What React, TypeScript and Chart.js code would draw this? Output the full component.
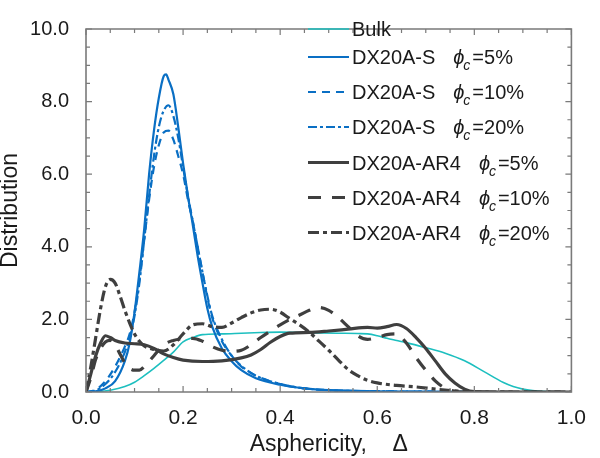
import React, { useEffect, useRef } from "react";
import { Chart, registerables } from "chart.js";

Chart.register(...registerables);

// ---------- data ----------
const bulkX = [0, 0.02, 0.05, 0.08, 0.1, 0.12, 0.14, 0.16, 0.18, 0.2, 0.22, 0.24, 0.28, 0.32, 0.36, 0.4, 0.44, 0.48, 0.52, 0.56, 0.58, 0.6, 0.62, 0.64, 0.66, 0.7, 0.74, 0.78, 0.82, 0.86, 0.88, 0.9, 0.92, 0.95, 1.0];
const bulkY = [0, 0.01, 0.05, 0.15, 0.27, 0.45, 0.65, 0.87, 1.1, 1.38, 1.5, 1.58, 1.6, 1.62, 1.64, 1.65, 1.64, 1.63, 1.62, 1.61, 1.6, 1.55, 1.48, 1.42, 1.36, 1.22, 1.07, 0.86, 0.56, 0.26, 0.15, 0.08, 0.04, 0.01, 0];

const s5X = [0, 0.02, 0.04, 0.06, 0.08, 0.09, 0.1, 0.11, 0.12, 0.13, 0.14, 0.15, 0.16, 0.165, 0.17, 0.18, 0.19, 0.2, 0.21, 0.22, 0.23, 0.24, 0.25, 0.26, 0.28, 0.3, 0.32, 0.35, 0.4, 0.45, 0.5, 0.6, 0.7, 0.8, 1.0];
const s5Y = [0, 0.02, 0.1, 0.3, 0.85, 1.35, 2.2, 3.3, 4.5, 6.0, 7.2, 8.1, 8.7, 8.75, 8.6, 8.2, 7.3, 6.3, 5.4, 4.6, 3.75, 3.0, 2.3, 1.8, 1.2, 0.85, 0.6, 0.38, 0.2, 0.1, 0.05, 0.02, 0.01, 0, 0];

const sX = [0, 0.02, 0.04, 0.06, 0.08, 0.09, 0.1, 0.11, 0.12, 0.13, 0.14, 0.15, 0.16, 0.17, 0.18, 0.19, 0.2, 0.21, 0.22, 0.23, 0.24, 0.25, 0.26, 0.28, 0.3, 0.32, 0.35, 0.4, 0.45, 0.5, 0.6, 0.7, 0.8, 1.0];
const s10Y = [0, 0.06, 0.3, 0.7, 1.25, 1.6, 2.2, 3.1, 4.2, 5.3, 6.2, 6.8, 7.15, 7.2, 6.95, 6.5, 6.0, 5.3, 4.7, 4.0, 3.3, 2.6, 2.05, 1.4, 1.0, 0.7, 0.45, 0.22, 0.1, 0.05, 0.02, 0.01, 0, 0];
const s20Y = [0, 0.04, 0.22, 0.55, 1.1, 1.5, 2.1, 3.0, 4.2, 5.4, 6.5, 7.3, 7.75, 7.9, 7.6, 7.0, 6.2, 5.4, 4.7, 4.0, 3.3, 2.65, 2.1, 1.45, 1.0, 0.72, 0.45, 0.22, 0.1, 0.05, 0.02, 0.01, 0, 0];

const a5X = [0, 0.01, 0.02, 0.03, 0.04, 0.05, 0.06, 0.08, 0.1, 0.12, 0.14, 0.16, 0.18, 0.2, 0.24, 0.28, 0.32, 0.34, 0.36, 0.38, 0.4, 0.42, 0.46, 0.5, 0.54, 0.58, 0.6, 0.62, 0.64, 0.66, 0.68, 0.7, 0.72, 0.74, 0.76, 0.78, 0.8, 0.85, 1.0];
const a5Y = [0, 0.5, 1.0, 1.35, 1.55, 1.5, 1.42, 1.35, 1.33, 1.3, 1.2, 1.05, 0.95, 0.88, 0.84, 0.86, 0.94, 1.02, 1.17, 1.37, 1.53, 1.62, 1.64, 1.68, 1.73, 1.78, 1.76, 1.8, 1.86, 1.75, 1.5, 1.2, 0.85, 0.5, 0.25, 0.08, 0.01, 0, 0];

const a10X = [0, 0.01, 0.02, 0.03, 0.04, 0.05, 0.06, 0.07, 0.08, 0.09, 0.1, 0.11, 0.12, 0.14, 0.16, 0.18, 0.2, 0.22, 0.24, 0.26, 0.28, 0.3, 0.32, 0.34, 0.36, 0.38, 0.4, 0.42, 0.44, 0.46, 0.48, 0.5, 0.52, 0.54, 0.56, 0.58, 0.6, 0.62, 0.64, 0.66, 0.68, 0.7, 0.72, 0.74, 0.76, 0.78, 1.0];
const a10Y = [0, 0.4, 0.9, 1.2, 1.38, 1.42, 1.3, 1.05, 0.8, 0.65, 0.6, 0.6, 0.7, 1.0, 1.3, 1.42, 1.47, 1.48, 1.4, 1.25, 1.15, 1.12, 1.15, 1.3, 1.5, 1.68, 1.85, 2.0, 2.12, 2.25, 2.33, 2.25, 2.05, 1.8, 1.55, 1.45, 1.5, 1.58, 1.6, 1.35, 0.95, 0.6, 0.3, 0.1, 0.02, 0, 0];

const a20X = [0, 0.01, 0.02, 0.03, 0.04, 0.05, 0.06, 0.07, 0.08, 0.09, 0.1, 0.11, 0.12, 0.14, 0.16, 0.18, 0.2, 0.22, 0.24, 0.26, 0.28, 0.3, 0.32, 0.34, 0.36, 0.38, 0.4, 0.42, 0.44, 0.46, 0.48, 0.5, 0.52, 0.54, 0.56, 0.58, 0.6, 0.64, 0.68, 0.72, 0.76, 0.8, 1.0];
const a20Y = [0, 0.7, 1.5, 2.3, 2.9, 3.1, 3.0, 2.65, 2.25, 1.9, 1.6, 1.4, 1.27, 1.17, 1.13, 1.3, 1.6, 1.85, 1.88, 1.8, 1.78, 1.9, 2.05, 2.18, 2.26, 2.28, 2.2, 2.02, 1.85, 1.65, 1.4, 1.15, 0.88, 0.62, 0.45, 0.32, 0.25, 0.18, 0.14, 0.08, 0.03, 0, 0];

const seriesNames = ["Bulk", "DX20A-S", "DX20A-S", "DX20A-S", "DX20A-AR4", "DX20A-AR4", "DX20A-AR4"];
const seriesPhi = ["", "=5%", "=10%", "=20%", "=5%", "=10%", "=20%"];

const xMin = 0, xMax = 1, xStep = 0.2, xMinor = 0.05;
const yMin = 0, yMax = 10, yStep = 2, yMinor = 0.5;
const xTitle = "Asphericity,    Δ";
const yTitle = "Distribution";

// ---------- styles ----------
const BLUE = "#0a6fc4";
const TEAL = "#1dbfbf";
const DARK = "#3f3f3f";
const AXIS = "#7a7a7a";
const FONT = "'Liberation Sans', Arial, sans-serif";

const pts = (xs: number[], ys: number[]) => xs.map((x, i) => ({ x, y: ys[i] }));

const legendRows = [29, 57, 92, 127, 162.5, 197.5, 232.5];

function drawFrame(chart: any) {
  const ctx: CanvasRenderingContext2D = chart.ctx;
  const xs = chart.scales.x;
  const ys = chart.scales.y;
  const L = xs.getPixelForValue(xMin);
  const R = xs.getPixelForValue(xMax);
  const B = ys.getPixelForValue(yMin);
  const T = ys.getPixelForValue(yMax);
  ctx.save();
  ctx.setLineDash([]);
  ctx.strokeStyle = AXIS;
  ctx.lineWidth = 1.6;
  ctx.lineCap = "butt";
  ctx.beginPath();
  ctx.moveTo(L, T); ctx.lineTo(R, T); ctx.lineTo(R, B); ctx.lineTo(L, B); ctx.closePath();
  ctx.stroke();
  ctx.lineWidth = 1.2;
  ctx.beginPath();
  const nx = Math.round((xMax - xMin) / xMinor);
  const kx = Math.round(xStep / xMinor);
  for (let i = 0; i <= nx; i++) {
    const px = xs.getPixelForValue(xMin + i * xMinor);
    const len = i % kx === 0 ? 6 : 4;
    ctx.moveTo(px, B); ctx.lineTo(px, B - len);
    ctx.moveTo(px, T); ctx.lineTo(px, T + len);
  }
  const ny = Math.round((yMax - yMin) / yMinor);
  const ky = Math.round(yStep / yMinor);
  for (let i = 0; i <= ny; i++) {
    const py = ys.getPixelForValue(yMin + i * yMinor);
    const len = i % ky === 0 ? 6 : 4;
    ctx.moveTo(L, py); ctx.lineTo(L + len, py);
    ctx.moveTo(R, py); ctx.lineTo(R - len, py);
  }
  ctx.stroke();
  ctx.restore();
}

function drawLegend(chart: any) {
  const ctx = chart.ctx;
  ctx.save();
  chart.data.datasets.forEach((ds: any, i: number) => {
    const y = legendRows[i];
    ctx.strokeStyle = ds.borderColor;
    ctx.lineWidth = ds.borderWidth;
    ctx.setLineDash(ds.borderDash || []);
    ctx.beginPath();
    ctx.moveTo(308, y);
    ctx.lineTo(349, y);
    ctx.stroke();
    ctx.setLineDash([]);
    ctx.fillStyle = "#1a1a1a";
    ctx.textBaseline = "alphabetic";
    ctx.textAlign = "left";
    ctx.font = `20px ${FONT}`;
    const base = y + 7;
    ctx.fillText(seriesNames[i], 352, base);
    if (seriesPhi[i]) {
      const w = ctx.measureText(seriesNames[i]).width;
      const px = 352 + w + 18;
      ctx.font = `italic 20px ${FONT}`;
      ctx.fillText("ϕ", px, base);
      ctx.font = `italic 14px ${FONT}`;
      ctx.fillText("c", px + 10, base + 6);
      ctx.font = `20px ${FONT}`;
      ctx.fillText(seriesPhi[i], px + 19, base);
    }
  });
  ctx.restore();
}

const framePlugin = {
  id: "frameAndLegend",
  afterDatasetsDraw(chart: any) {
    drawFrame(chart);
  },
  afterDraw(chart: any) {
    drawLegend(chart);
  },
};

export default function App() {
  const ref = useRef<HTMLCanvasElement | null>(null);
  useEffect(() => {
    if (!ref.current) return;
    const line = (label: string, xs: number[], ys: number[], color: string, width: number, dash: number[], order: number) => ({
      label,
      data: pts(xs, ys),
      borderColor: color,
      backgroundColor: color,
      borderWidth: width,
      borderDash: dash,
      pointRadius: 0,
      fill: false,
      cubicInterpolationMode: "monotone" as const,
      order,
    });
    const chart = new Chart(ref.current, {
      type: "line",
      data: {
        datasets: [
          line("Bulk", bulkX, bulkY, TEAL, 1.6, [], 3),
          line("DX20A-S 5%", s5X, s5Y, BLUE, 2.2, [], 2),
          line("DX20A-S 10%", sX, s10Y, BLUE, 2.2, [8, 6], 2),
          line("DX20A-S 20%", sX, s20Y, BLUE, 2.2, [9, 3, 3, 3], 2),
          line("DX20A-AR4 5%", a5X, a5Y, DARK, 3.2, [], 1),
          line("DX20A-AR4 10%", a10X, a10Y, DARK, 3.2, [13, 11], 1),
          line("DX20A-AR4 20%", a20X, a20Y, DARK, 3.2, [11, 4, 4, 4], 1),
        ],
      },
      options: {
        responsive: false,
        animation: false,
        devicePixelRatio: 1,
        layout: { padding: { left: 0, right: 12, top: 7, bottom: 0 } },
        plugins: { legend: { display: false }, tooltip: { enabled: false } },
        scales: {
          x: {
            type: "linear",
            min: xMin,
            max: xMax,
            grid: { display: false, drawTicks: false },
            border: { display: false },
            ticks: {
              stepSize: xStep,
              padding: 14,
              color: "#1a1a1a",
              font: { family: FONT, size: 21 },
              callback: (v: any) => Number(v).toFixed(1),
              maxRotation: 0,
            },
            title: {
              display: true,
              text: xTitle,
              color: "#1a1a1a",
              font: { family: FONT, size: 23 },
              padding: { top: 0, bottom: 0 },
            },
            afterFit: (s: any) => { s.height = 66; },
          },
          y: {
            type: "linear",
            min: yMin,
            max: yMax,
            grid: { display: false, drawTicks: false },
            border: { display: false },
            ticks: {
              stepSize: yStep,
              padding: 17,
              color: "#1a1a1a",
              font: { family: FONT, size: 20 },
              callback: (v: any) => Number(v).toFixed(1),
            },
            title: {
              display: true,
              text: yTitle,
              color: "#1a1a1a",
              font: { family: FONT, size: 23, lineHeight: 0.9 },
              padding: { top: 0, bottom: 0 },
            },
            afterFit: (s: any) => { s.width = 86; },
          },
        },
      },
      plugins: [framePlugin],
    } as any);
    return () => chart.destroy();
  }, []);
  return (
    <div style={{ position: "absolute", left: 0, top: 0, width: 600, height: 458, background: "#fff" }}>
      <canvas ref={ref} width={600} height={458} style={{ width: 600, height: 458 }} />
    </div>
  );
}
